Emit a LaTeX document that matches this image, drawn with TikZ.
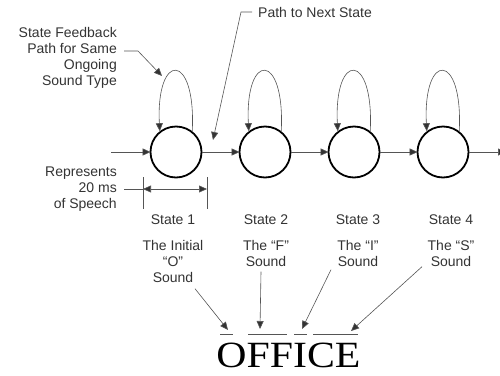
\documentclass[tikz,border=0pt]{standalone}
\usepackage{fontspec}
\setmainfont{Liberation Sans}
\newfontfamily\wordfont{Liberation Serif}
\usetikzlibrary{arrows.meta, calc}

\definecolor{inkgray}{HTML}{333333}
\definecolor{linegray}{HTML}{555555}

\begin{document}
\begin{tikzpicture}[
    x=1pt, y=-1pt,
    state/.style={circle, draw=black, line width=1.8pt, minimum size=51pt, inner sep=0pt},
    lbl/.style={inner sep=0pt, text=inkgray, font=\fontsize{14}{16}\selectfont, align=center},
    side/.style={inner sep=0pt, text=inkgray, font=\fontsize{14}{16}\selectfont, align=right, anchor=east},
    tip/.style={-{Triangle[length=8pt, width=7pt, fill=inkgray]}, draw=linegray, line width=0.6pt},
    trans/.style={tip, shorten >=-1pt},
    lead/.style={tip},
    thin/.style={draw=linegray, line width=0.6pt}
]
    \useasboundingbox (0,0) rectangle (500,375);

    % States
    \node[state] (s1) at (176,152) {};
    \node[state] (s2) at (265,152) {};
    \node[state] (s3) at (354,152) {};
    \node[state] (s4) at (443,152) {};

    % Transitions
    \coordinate (in) at (111,152);
    \coordinate (out) at (505,152);
    \draw[trans] (in) -- (s1);
    \draw[trans] (s1) -- (s2);
    \draw[trans] (s2) -- (s3);
    \draw[trans] (s3) -- (s4);
    \draw[trans] (s4) -- (out);

    % Self loops
    \foreach \s in {s1,s2,s3,s4}
        \draw[tip] (\s.52) .. controls +(4,-80) and +(-4,-80) .. (\s.128);

    % Left side labels
    \node[side] (fb) at (117,58) {State Feedback\\Path for Same\\Ongoing\\Sound Type};
    \coordinate (fbk) at (138,51);
    \coordinate (fbtip) at (162,76);
    \draw[lead] ([xshift=7pt]fb.east |- fbk) -- (fbk) -- (fbtip);

    \node[side] (rep) at (117,189) {Represents\\20 ms\\of Speech};
    \coordinate (dl) at (143,189);
    \coordinate (dr) at (207,189);
    \draw[thin] ([xshift=7pt]rep.east) -- (dl);
    \draw[thin] ($(dl)+(0,-12)$) -- ($(dl)+(0,20)$);
    \draw[thin] ($(dr)+(0,-12)$) -- ($(dr)+(0,20)$);
    \draw[tip, {Triangle[length=8pt, width=7pt, fill=inkgray]}-{Triangle[length=8pt, width=7pt, fill=inkgray]}] (dl) -- (dr);

    % Path to next state
    \node[lbl, anchor=west] (pn) at (258,12) {Path to Next State};
    \coordinate (pnk) at (241,12);
    \coordinate (pntip) at (213,140);
    \draw[lead] ([xshift=-6pt]pn.west) -- (pnk) -- (pntip);

    % State names and sounds
    \node[lbl] (l1) at (173,220) {State 1};
    \node[lbl] (l2) at (266,220) {State 2};
    \node[lbl] (l3) at (358,220) {State 3};
    \node[lbl] (l4) at (451,220) {State 4};
    \node[lbl, anchor=north] (d1) at (173,240) {The Initial\\``O''\\Sound};
    \node[lbl, anchor=north] (d2) at (266,240) {The ``F''\\Sound};
    \node[lbl, anchor=north] (d3) at (358,240) {The ``I''\\Sound};
    \node[lbl, anchor=north] (d4) at (451,240) {The ``S''\\Sound};

    % The word
    \node[inner sep=0pt, anchor=base, text=black, font=\wordfont\fontsize{37}{37}\selectfont] (word) at (288.5,367) {\scalebox{1.13}[1]{OFFICE}};
    \draw[thin] (220,334) -- (233,334);
    \draw[thin] (248,334) -- (287,334);
    \draw[thin] (294,334) -- (307,334);
    \draw[thin] (313,334) -- (358,334);

    \coordinate (t1) at (228,330);
    \coordinate (t2) at (260,329);
    \coordinate (t3) at (302,329);
    \coordinate (t4) at (351,331);
    \draw[lead] ([xshift=22pt,yshift=-6pt]d1.south) -- (t1);
    \draw[lead] ([xshift=-5pt,yshift=-5pt]d2.south) -- (t2);
    \draw[lead] ([xshift=-27pt,yshift=-3pt]d3.south) -- (t3);
    \draw[lead] ([xshift=-29pt,yshift=0pt]d4.south) -- (t4);
\end{tikzpicture}
\end{document}
